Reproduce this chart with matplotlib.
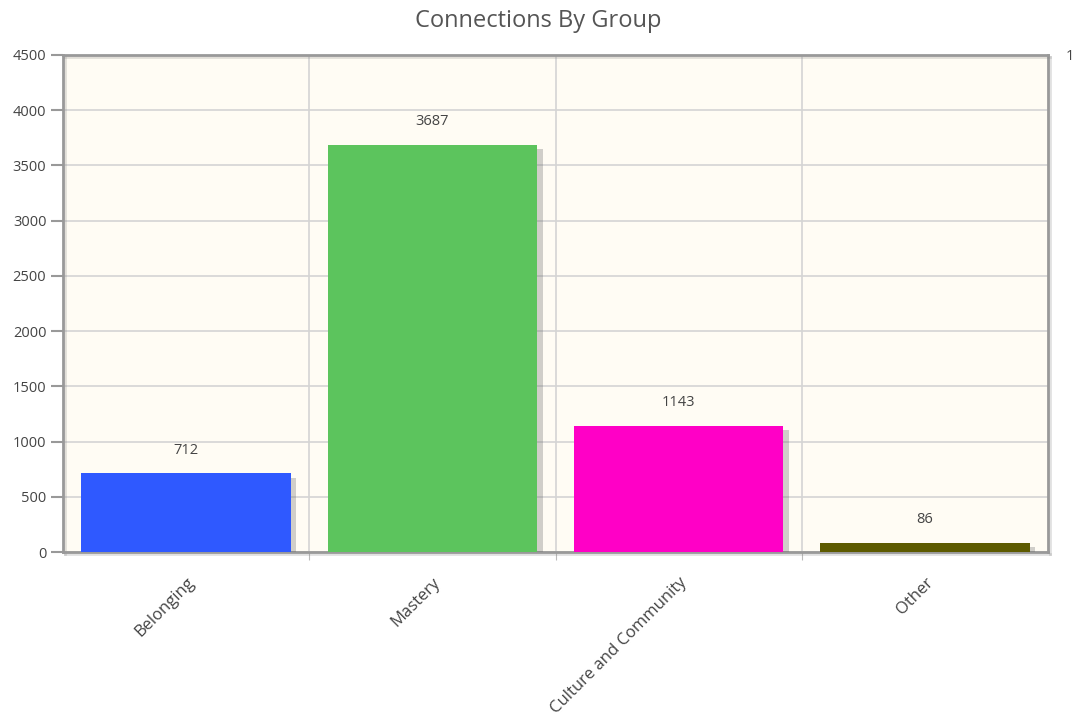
import matplotlib
matplotlib.use("Agg")
import matplotlib.pyplot as plt
import matplotlib.patheffects as pe

groups = ["Belonging", "Mastery", "Culture and Community", "Other"]
connections = [712, 3687, 1143, 86]
bar_colors = ["#2f59ff", "#5cc45d", "#ff00c6", "#5d5a00"]
y_ticks = [0, 500, 1000, 1500, 2000, 2500, 3000, 3500, 4000, 4500]

plt.rcParams['font.family'] = ['Open Sans', 'DejaVu Sans']

fig = plt.figure(figsize=(10.76, 7.28), dpi=100)
ax = fig.add_axes([63 / 1076, 1 - 552 / 728, 985 / 1076, 497 / 728])
ax.set_facecolor("#fffcf4")

shadow = [pe.SimplePatchShadow(offset=(4, -3), shadow_rgbFace="#666666", alpha=0.3), pe.Normal()]

xs = list(range(len(groups)))
bars = ax.bar(xs, connections, width=0.85, color=bar_colors, zorder=3)
for b in bars:
    b.set_path_effects(shadow)

for x, v in zip(xs, connections):
    ax.text(x, v + 140, str(v), ha="center", va="bottom", fontsize=10.5, color="#444444", zorder=4)

ax.set_xlim(-0.5, len(groups) - 0.5)
ax.set_ylim(0, 4500)
ax.set_yticks(y_ticks)
ax.set_yticklabels([str(t) for t in y_ticks], fontsize=10.5, color="#444444")

# grid lines between categories
ax.set_xticks([i + 0.5 for i in range(len(groups) - 1)], minor=False)
ax.set_xticklabels([])
ax.set_xticks(xs, minor=True)
ax.set_xticklabels(groups, minor=True, rotation=45, ha="right", rotation_mode="anchor",
                   fontsize=12, color="#444444")
ax.tick_params(axis="x", which="minor", length=0, pad=16)
ax.tick_params(axis="x", which="major", length=6, color="#bbbbbb", direction="out")
ax.tick_params(axis="y", length=9, color="#999999", width=1.5, pad=3)

ax.grid(True, which="major", color="#d4d4d4", linewidth=1.2, zorder=0)
ax.set_axisbelow(True)

for s in ax.spines.values():
    s.set_color("#999999")
    s.set_linewidth(2)
    s.set_path_effects([pe.SimpleLineShadow(offset=(1.5, -1.5), shadow_color="#888888", alpha=0.25), pe.Normal()])

fig.text(0.5, 1 - 21 / 728, "Connections By Group", ha="center", va="center", fontsize=17, color="#555555")
fig.text(1066 / 1076, 1 - 56 / 728, "1", ha="left", va="center", fontsize=10.5, color="#444444")

fig.savefig("out.png", dpi=100, facecolor="white")
